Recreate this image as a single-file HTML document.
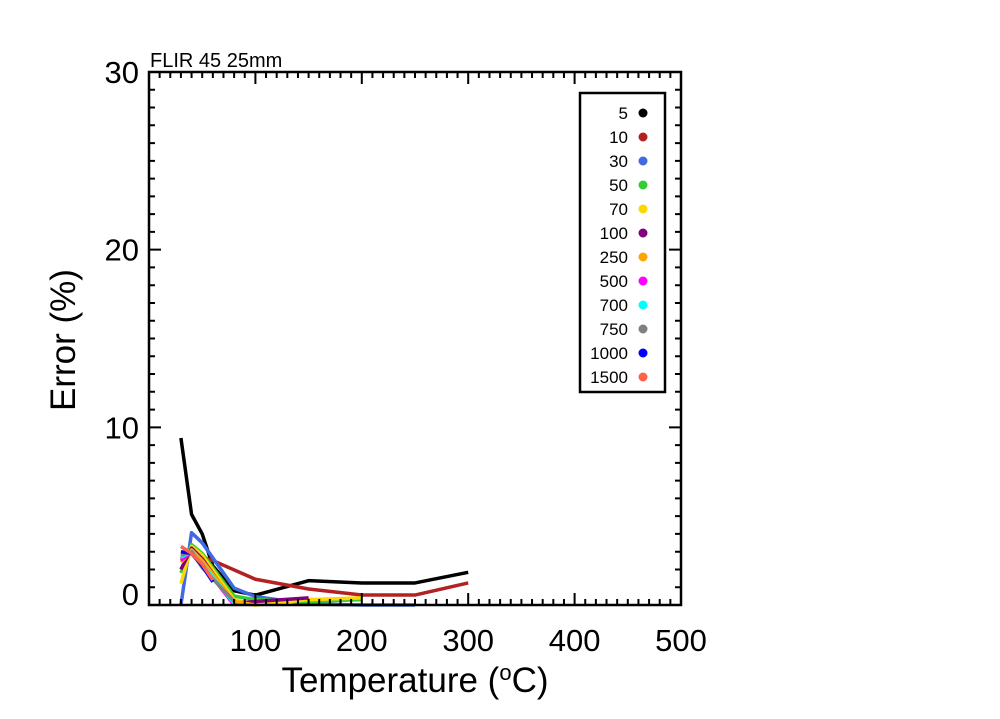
<!DOCTYPE html>
<html><head><meta charset="utf-8"><style>
body{margin:0;background:#fff;}
svg text{font-family:"Liberation Sans",sans-serif;}
</style></head><body>
<svg id="chart" width="1000" height="714" xmlns="http://www.w3.org/2000/svg">
<g id="plot"></g>
<g id="axes"></g>
<g id="legend"></g>
</svg>
<script>
const xTicks=[0,100,200,300,400,500];
const yTicks=[0,10,20,30];
const seriesNames=["5","10","30","50","70","100","250","500","700","750","1000","1500"];
const seriesColors=["#000000","#b22222","#4169e1","#32cd32","#ffd700","#800080","#ffa500","#ff00ff","#00ffff","#808080","#0000ff","#ff6347"];
const seriesX=[
[30,40,50,60,80,100,150,200,250,300],
[30,40,50,60,100,150,200,250,300],
[30,40,50,80,100,150,200,250],
[30,40,50,80,100,150,200],
[30,40,50,80,100,150,200],
[30,40,50,80,100,150],
[30,40,50,80,100],
[30,40,50,80],
[30,40,50,80],
[30,40,50,80],
[30,40,50,60],
[30,40,50,60]];
const seriesY=[
[9.4,5.1,4.0,2.2,0.8,0.55,1.37,1.24,1.24,1.84],
[2.6,2.9,2.7,2.5,1.45,0.9,0.56,0.56,1.24],
[0,4.07,3.5,0.95,0.47,0.06,0.0,0.0],
[1.8,3.4,2.9,0.5,0.3,0.2,0.3],
[1.2,3.3,2.8,0.3,0.0,0.3,0.4],
[2.0,3.2,2.6,0.1,0.2,0.4],
[2.4,3.1,2.5,0.2,0.0],
[2.5,3.0,2.3,0.0],
[2.7,3.0,2.3,0.1],
[2.8,3.0,2.1,0.2],
[3.0,2.9,2.2,1.3],
[3.3,2.9,2.3,1.4]];
const X0=149,X1=681,Y0=605,Y1=72,XMAX=500,YMAX=30;
const sx=v=>X0+(X1-X0)*v/XMAX, sy=v=>Y0-(Y0-Y1)*v/YMAX;
const NS="http://www.w3.org/2000/svg";
function mk(p,t,a){const e=document.createElementNS(NS,t);for(const k in a)e.setAttribute(k,a[k]);p.appendChild(e);return e;}
const plot=document.getElementById('plot'),axes=document.getElementById('axes'),leg=document.getElementById('legend');
seriesY.forEach((ys,i)=>{
 const pts=ys.map((y,j)=>sx(seriesX[i][j])+","+sy(y)).join(" ");
 const l=mk(plot,'polyline',{points:pts,fill:'none',stroke:seriesColors[i],'stroke-width':3.5,'stroke-linejoin':'round'});
 
 
});
const fr=mk(axes,'rect',{x:X0,y:Y1,width:X1-X0,height:Y0-Y1,fill:'none',stroke:'#000','stroke-width':2.5});


let tk='';
for(let v=0;v<=XMAX;v+=10){const x=sx(v),L=v%100===0?12:6;tk+=`M${x},${Y0}v${-L}M${x},${Y1}v${L}`;}
for(let v=0;v<=YMAX;v+=1){const y=sy(v),L=v%10===0?12:6;tk+=`M${X0},${y}h${L}M${X1},${y}h${-L}`;}
const tp=mk(axes,'path',{d:tk,stroke:'#000','stroke-width':2,fill:'none'});


xTicks.forEach(v=>{const t=mk(axes,'text',{x:sx(v),y:651,'font-size':31,'text-anchor':'middle'});t.textContent=v;
 
 });
yTicks.forEach(v=>{const t=mk(axes,'text',{x:139,y:sy(v)+(v===0?0:11),'font-size':31,'text-anchor':'end'});t.textContent=v;
 
 });
const xt=mk(axes,'text',{x:415,y:692,'font-size':35,'text-anchor':'middle'});
xt.innerHTML='Temperature (<tspan baseline-shift="super" font-size="22">o</tspan>C)';


const yt=mk(axes,'text',{x:0,y:0,'font-size':35,'text-anchor':'middle',transform:'translate(75,340) rotate(-90)'});
yt.textContent='Error (%)';


const tt=mk(axes,'text',{x:150,y:67,'font-size':20});
tt.textContent='FLIR 45 25mm';


const lb=mk(leg,'rect',{x:580,y:93,width:85,height:299,fill:'#fff',stroke:'#000','stroke-width':2.5});


seriesNames.forEach((n,i)=>{
 const y=113+i*24;
 const t=mk(leg,'text',{x:628,y:y+6,'font-size':17,'text-anchor':'end'});t.textContent=n;
 
 
 const c=mk(leg,'circle',{cx:643,cy:y,r:4.5,fill:seriesColors[i]});
 
 
});
</script>
</body></html>
